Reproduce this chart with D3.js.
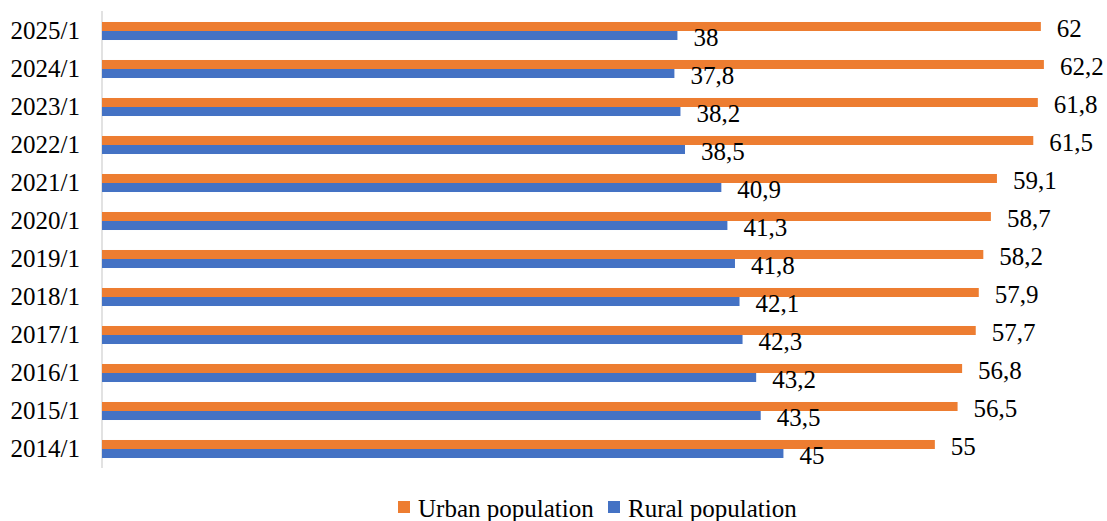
<!DOCTYPE html>
<html>
<head>
<meta charset="utf-8">
<script src="https://cdn.jsdelivr.net/npm/d3@7"></script>
<style>
  html, body { margin: 0; padding: 0; background: #fff; }
  svg { display: block; }
</style>
</head>
<body>
<svg id="chart" width="1107" height="521"></svg>
<script>
// Categories, top to bottom
const categories = ["2025/1", "2024/1", "2023/1", "2022/1", "2021/1", "2020/1",
                    "2019/1", "2018/1", "2017/1", "2016/1", "2015/1", "2014/1"];
// Share of population, %
const urbanValues = [62, 62.2, 61.8, 61.5, 59.1, 58.7, 58.2, 57.9, 57.7, 56.8, 56.5, 55];
const ruralValues = [38, 37.8, 38.2, 38.5, 40.9, 41.3, 41.8, 42.1, 42.3, 43.2, 43.5, 45];
const seriesNames = ["Urban population", "Rural population"];
const seriesColors = ["#ED7D31", "#4472C4"];

const FONT = "'Liberation Serif', 'Times New Roman', serif";
const FS = 25;

const svg = d3.select("#chart");

const x = d3.scaleLinear().domain([0, 70]).range([102, 1162]);
const y0 = d3.scaleBand().domain(categories).range([12, 468])
  .paddingInner(0.526).paddingOuter(0.263);
const y1 = d3.scaleBand().domain(seriesNames).range([0, y0.bandwidth()]);

const rows = categories.map((c, i) => ({ cat: c, vals: [urbanValues[i], ruralValues[i]] }));
const fmt = v => String(v).replace(".", ",");

// Vertical category axis line
svg.append("line")
  .attr("x1", x(0)).attr("x2", x(0))
  .attr("y1", y0.range()[0] - 1).attr("y2", y0.range()[1])
  .attr("stroke", "#d9d9d9").attr("stroke-width", 1.5);

// Category labels
svg.append("g").selectAll("text").data(categories).join("text")
  .attr("x", 80)
  .attr("y", d => y0(d) + y0.bandwidth() / 2 + 8.3)
  .attr("text-anchor", "end")
  .style("font-family", FONT)
  .style("font-size", FS + "px")
  .attr("fill", "#000")
  .text(d => d);

// Bars
const groups = svg.append("g").selectAll("g").data(rows).join("g")
  .attr("transform", d => `translate(0,${y0(d.cat)})`);

groups.selectAll("rect")
  .data(d => d.vals.map((v, j) => ({ name: seriesNames[j], v, j })))
  .join("rect")
  .attr("x", x(0))
  .attr("y", d => y1(d.name))
  .attr("width", d => x(d.v) - x(0))
  .attr("height", y1.bandwidth())
  .attr("fill", d => seriesColors[d.j]);

// Value labels
groups.selectAll("text")
  .data(d => d.vals.map((v, j) => ({ name: seriesNames[j], v, j })))
  .join("text")
  .attr("x", d => x(d.v) + 16)
  .attr("y", d => y1(d.name) + y1.bandwidth() / 2 + 10.5)
  .style("font-family", FONT)
  .style("font-size", FS + "px")
  .attr("fill", "#000")
  .text(d => fmt(d.v));

// Legend
const legendX = [398, 608];
const legend = svg.append("g").selectAll("g").data(seriesNames).join("g")
  .attr("transform", (d, i) => `translate(${legendX[i]},501)`);
legend.append("rect")
  .attr("width", 12).attr("height", 12)
  .attr("fill", (d, i) => seriesColors[i]);
legend.append("text")
  .attr("x", 20).attr("y", 15.5)
  .style("font-family", FONT)
  .style("font-size", FS + "px")
  .attr("fill", "#000")
  .text(d => d);
</script>
</body>
</html>
